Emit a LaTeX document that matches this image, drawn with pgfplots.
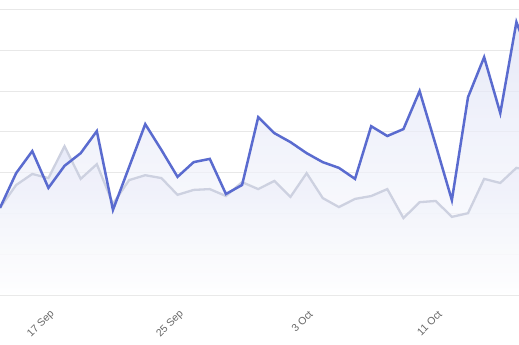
\documentclass[border=0pt]{standalone}
\usepackage{pgfplots}
\usepackage{pgfplotstable}
\pgfplotsset{compat=1.18}
\usepackage{fontspec}
\setmainfont{Liberation Sans}
\definecolor{blueline}{HTML}{5A6BCF}
\definecolor{greyline}{HTML}{CDD1E0}
\definecolor{gridc}{HTML}{E8E8E8}
\definecolor{axisc}{HTML}{D9D9D9}
\definecolor{labelc}{HTML}{666666}
\definecolor{fillc}{HTML}{DDE1F5}

\pgfplotstableread{
x blue grey
0 2.14 2.14
1 2.99 2.70
2 3.53 2.97
3 2.63 2.87
4 3.17 3.65
5 3.48 2.85
6 4.02 3.21
7 2.09 2.24
8 3.14 2.82
9 4.19 2.94
10 3.56 2.87
11 2.90 2.46
12 3.26 2.58
13 3.34 2.60
14 2.48 2.43
15 2.70 2.77
16 4.36 2.60
17 3.97 2.80
18 3.75 2.41
19 3.48 2.99
20 3.26 2.38
21 3.12 2.16
22 2.85 2.36
23 4.14 2.43
24 3.90 2.60
25 4.07 1.89
26 5.00 2.28
27 3.68 2.31
28 2.33 1.92
29 4.85 2.01
30 5.83 2.85
31 4.46 2.75
32 6.69 3.12
33 5.64 3.05
}\datatable

\begin{document}
\begin{tikzpicture}
\begin{axis}[
  scale only axis, width=519bp, height=295.3bp,
  xmin=0, xmax=32.16, ymin=0, ymax=7.23,
  axis x line*=bottom, axis y line*=left,
  y axis line style={draw=none},
  x axis line style={draw=axisc, line width=1bp, -},
  ymajorgrids, grid style={draw=gridc, line width=1bp},
  ytick={1,2,3,4,5,6,7}, yticklabels={},
  major tick length=0pt,
  xtick={3,11,19,27}, xticklabels={17 Sep,25 Sep,3 Oct,11 Oct},
  xticklabel style={xshift=4.5bp, yshift=-17bp, rotate=45, anchor=east, inner sep=0pt,
    font=\fontsize{10.5}{12}\selectfont, text=labelc},
]
\addplot[draw=none, shade, top color=fillc, bottom color=white, fill opacity=0.7, forget plot]
  table[x=x, y=grey] {\datatable} \closedcycle;
\addplot[draw=none, shade, top color=fillc, bottom color=white, fill opacity=0.7, forget plot]
  table[x=x, y=blue] {\datatable} \closedcycle;
\addplot[greyline, line width=2.3bp, line join=miter, mark=none]
  table[x=x, y=grey] {\datatable};
\addplot[blueline, line width=2.5bp, line join=miter, mark=none]
  table[x=x, y=blue] {\datatable};
\end{axis}
\pgfresetboundingbox
\path[use as bounding box] (current axis.south west) ++(0,-49.7bp) rectangle (current axis.north east);
\end{tikzpicture}
\end{document}
